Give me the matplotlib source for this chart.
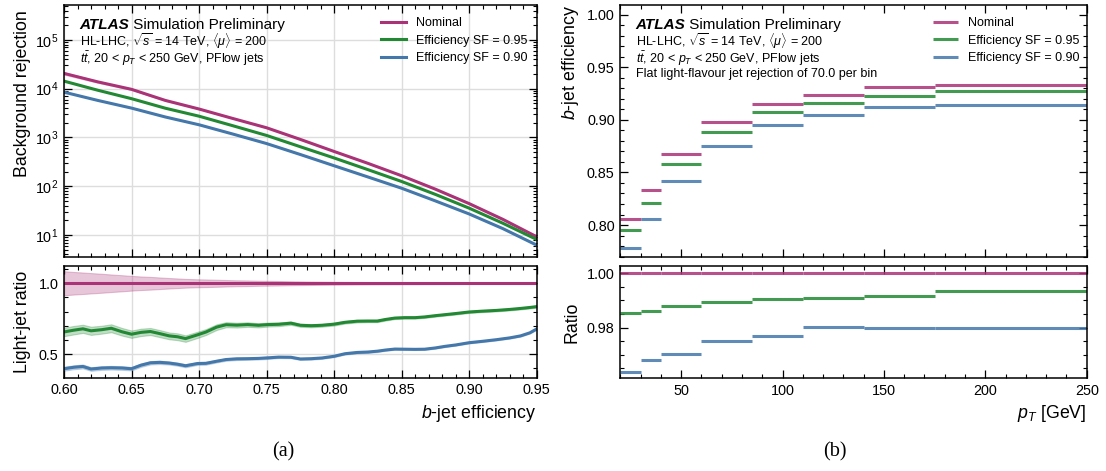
import matplotlib
matplotlib.use("Agg")
import matplotlib.pyplot as plt
from matplotlib.ticker import MultipleLocator, FormatStrFormatter
import numpy as np

plt.rcParams['font.family'] = ['Liberation Sans', 'DejaVu Sans']
plt.rcParams['mathtext.fontset'] = 'custom'
plt.rcParams['mathtext.rm'] = 'Liberation Sans'
plt.rcParams['mathtext.it'] = 'Liberation Sans:italic'
plt.rcParams['mathtext.bf'] = 'Liberation Sans:bold'

# colours (Tol bright)
c_nom, c_95, c_90 = '#AA3377', '#228833', '#4477AA'
labels = ['Nominal', 'Efficiency SF = 0.95', 'Efficiency SF = 0.90']

# ---- (a) rejection vs b-jet efficiency ----
eff_coarse = [0.600, 0.625, 0.650, 0.675, 0.700, 0.725, 0.750, 0.775,
              0.800, 0.825, 0.850, 0.875, 0.900, 0.925, 0.950]
rej_nominal = [20600, 13800, 9700, 5750, 3830, 2450, 1580, 912,
               516, 295, 164, 87, 44, 20.9, 9.2]
rej_sf095 = [14300, 9300, 6240, 3980, 2730, 1740, 1100, 645,
             380, 219, 125, 68, 35.5, 17.4, 8.1]
rej_sf090 = [8500, 5750, 4000, 2630, 1820, 1175, 750, 447,
             263, 155, 91, 50, 27, 13.5, 6.2]
rej_nominal_relunc = [0.085, 0.068, 0.052, 0.040, 0.028, 0.022, 0.017, 0.013,
                      0.010, 0.008, 0.007, 0.006, 0.005, 0.005, 0.005]

eff_fine = [0.600, 0.607, 0.614, 0.620, 0.628, 0.635, 0.643, 0.650, 0.657, 0.664,
            0.671, 0.678, 0.684, 0.690, 0.699, 0.705, 0.713, 0.720, 0.728, 0.736,
            0.744, 0.751, 0.759, 0.768, 0.775, 0.783, 0.791, 0.800, 0.808, 0.817,
            0.825, 0.832, 0.838, 0.845, 0.852, 0.860, 0.867, 0.875, 0.882, 0.890,
            0.900, 0.910, 0.920, 0.930, 0.938, 0.945, 0.950]
ratio_sf095 = [0.656, 0.668, 0.678, 0.664, 0.672, 0.682, 0.657, 0.640, 0.653, 0.659,
               0.644, 0.628, 0.622, 0.609, 0.636, 0.655, 0.690, 0.707, 0.704, 0.708,
               0.703, 0.708, 0.710, 0.718, 0.703, 0.700, 0.703, 0.711, 0.724, 0.732,
               0.733, 0.733, 0.744, 0.754, 0.757, 0.757, 0.762, 0.771, 0.778, 0.786,
               0.797, 0.803, 0.808, 0.815, 0.822, 0.829, 0.835]
ratio_sf090 = [0.396, 0.406, 0.412, 0.394, 0.401, 0.403, 0.401, 0.396, 0.421, 0.438,
               0.441, 0.436, 0.428, 0.417, 0.433, 0.434, 0.449, 0.461, 0.466, 0.467,
               0.469, 0.473, 0.478, 0.477, 0.465, 0.467, 0.472, 0.484, 0.502, 0.511,
               0.514, 0.520, 0.528, 0.535, 0.534, 0.533, 0.534, 0.543, 0.554, 0.564,
               0.580, 0.590, 0.601, 0.614, 0.628, 0.650, 0.677]
unc_nominal = [0.085, 0.080, 0.076, 0.072, 0.067, 0.062, 0.057, 0.052, 0.048, 0.045,
               0.041, 0.037, 0.034, 0.031, 0.028, 0.027, 0.025, 0.023, 0.021, 0.020,
               0.018, 0.017, 0.016, 0.014, 0.013, 0.012, 0.011, 0.010, 0.0095, 0.009,
               0.0085, 0.008, 0.0078, 0.0073, 0.007, 0.0067, 0.0064, 0.006, 0.0057, 0.0054,
               0.005, 0.005, 0.005, 0.005, 0.005, 0.005, 0.005]
unc_sf095 = [0.030, 0.030, 0.029, 0.029, 0.028, 0.028, 0.027, 0.026, 0.026, 0.025,
             0.025, 0.024, 0.024, 0.023, 0.022, 0.021, 0.020, 0.018, 0.017, 0.016,
             0.015, 0.014, 0.013, 0.012, 0.011, 0.011, 0.010, 0.010, 0.009, 0.009,
             0.008, 0.008, 0.008, 0.007, 0.007, 0.007, 0.007, 0.007, 0.007, 0.007,
             0.007, 0.007, 0.007, 0.007, 0.007, 0.007, 0.007]
unc_sf090 = [0.014, 0.014, 0.014, 0.013, 0.013, 0.013, 0.013, 0.012, 0.012, 0.012,
             0.012, 0.011, 0.011, 0.011, 0.010, 0.010, 0.009, 0.009, 0.009, 0.008,
             0.008, 0.008, 0.007, 0.007, 0.007, 0.007, 0.006, 0.006, 0.006, 0.006,
             0.006, 0.006, 0.005, 0.005, 0.005, 0.005, 0.005, 0.005, 0.005, 0.005,
             0.005, 0.005, 0.005, 0.005, 0.005, 0.005, 0.005]

# ---- (b) b-jet efficiency vs pT ----
pt_edges = [20, 30, 40, 60, 85, 110, 140, 175, 250]
eff_nominal = [0.806, 0.833, 0.868, 0.898, 0.915, 0.924, 0.931, 0.933]
eff_sf095 = [0.795, 0.821, 0.858, 0.888, 0.907, 0.916, 0.923, 0.927]
eff_sf090 = [0.778, 0.806, 0.842, 0.875, 0.895, 0.905, 0.912, 0.914]
pt_ratio_nominal = [1.0, 1.0, 1.0, 1.0, 1.0, 1.0, 1.0, 1.0]
pt_ratio_sf095 = [0.9853, 0.9861, 0.9881, 0.9896, 0.9907, 0.9909, 0.9916, 0.9935]
pt_ratio_sf090 = [0.9635, 0.9679, 0.9702, 0.9750, 0.9770, 0.9801, 0.9798, 0.9798]

fig = plt.figure(figsize=(11.06, 4.71), dpi=100)
W, H = 1106, 471
def px_axes(x0, x1, y0, y1):
    return fig.add_axes([x0 / W, 1 - y1 / H, (x1 - x0) / W, (y1 - y0) / H])

axA = px_axes(64, 536.7, 5, 257)
axAr = px_axes(64, 536.7, 266, 377.5)
axB = px_axes(620.3, 1086.7, 5, 257)
axBr = px_axes(620.3, 1086.7, 266, 378)

for ax in (axA, axAr, axB, axBr):
    ax.tick_params(which='both', direction='in', top=True, right=True, labelsize=10.4, pad=4)
    ax.tick_params(which='major', length=6, width=0.9)
    ax.tick_params(which='minor', length=3, width=0.8)
    for s in ax.spines.values():
        s.set_linewidth(1.1)
    ax.set_axisbelow(True)

for ax in (axA, axAr):
    ax.grid(True, which='major', color='#dddddd', lw=1)

lw = 2.2
# top-left
eff_c = np.array(eff_coarse)
for rej, col, lab in zip([rej_nominal, rej_sf095, rej_sf090], [c_nom, c_95, c_90], labels):
    axA.plot(eff_c, rej, color=col, lw=lw, label=lab)
rn = np.array(rej_nominal)
ru = np.array(rej_nominal_relunc)
axA.fill_between(eff_c, rn * (1 - ru), rn * (1 + ru), color=c_nom, alpha=0.25, lw=0)
axA.set_yscale('log')
axA.set_xlim(0.6, 0.95)
axA.set_ylim(3.54, 5.2e5)
axA.xaxis.set_major_locator(MultipleLocator(0.05))
axA.xaxis.set_minor_locator(MultipleLocator(0.01))
axA.tick_params(labelbottom=False)
axA.set_ylabel('Background rejection', fontsize=12.8, loc='top')

# bottom-left ratio
ef = np.array(eff_fine)
for r, u, col in zip([np.ones(len(ef)), ratio_sf095, ratio_sf090],
                     [unc_nominal, unc_sf095, unc_sf090], [c_nom, c_95, c_90]):
    r = np.array(r); u = np.array(u)
    axAr.fill_between(ef, r - u, r + u, color=col, alpha=0.28, lw=0.8, edgecolor=col)
    axAr.plot(ef, r, color=col, lw=lw)
axAr.set_xlim(0.6, 0.95)
axAr.set_ylim(0.334, 1.122)
axAr.xaxis.set_major_locator(MultipleLocator(0.05))
axAr.xaxis.set_minor_locator(MultipleLocator(0.01))
axAr.yaxis.set_major_locator(MultipleLocator(0.5))
axAr.yaxis.set_minor_locator(MultipleLocator(0.1))
axAr.xaxis.set_major_formatter(FormatStrFormatter('%.2f'))
axAr.set_xlabel('$b$-jet efficiency', fontsize=12.8, loc='right', labelpad=4)
axAr.set_ylabel('Light-jet ratio', fontsize=12.8)

# top-right
e0, e1 = pt_edges[:-1], pt_edges[1:]
for eff, col, lab in zip([eff_nominal, eff_sf095, eff_sf090], [c_nom, c_95, c_90], labels):
    axB.hlines(eff, e0, e1, color=col, lw=2.2, alpha=0.85, label=lab)
axB.set_xlim(20, 250)
axB.set_ylim(0.7696, 1.0092)
axB.xaxis.set_major_locator(MultipleLocator(50))
axB.xaxis.set_minor_locator(MultipleLocator(10))
axB.yaxis.set_major_locator(MultipleLocator(0.05))
axB.yaxis.set_minor_locator(MultipleLocator(0.01))
axB.yaxis.set_major_formatter(FormatStrFormatter('%.2f'))
axB.tick_params(labelbottom=False)
axB.set_ylabel('$b$-jet efficiency', fontsize=12.8, loc='top')

# bottom-right ratio
for r, col in zip([pt_ratio_nominal, pt_ratio_sf095, pt_ratio_sf090], [c_nom, c_95, c_90]):
    axBr.hlines(r, e0, e1, color=col, lw=2.2, alpha=0.85)
axBr.set_xlim(20, 250)
axBr.set_ylim(0.9614, 1.0027)
axBr.xaxis.set_major_locator(MultipleLocator(50))
axBr.xaxis.set_minor_locator(MultipleLocator(10))
axBr.yaxis.set_major_locator(MultipleLocator(0.02))
axBr.yaxis.set_minor_locator(MultipleLocator(0.005))
axBr.yaxis.set_major_formatter(FormatStrFormatter('%.2f'))
axBr.set_xlabel('$p_T$ [GeV]', fontsize=12.8, loc='right', labelpad=4)
axBr.set_ylabel('Ratio', fontsize=12.8)

# label positions
axA.yaxis.set_label_coords(-0.07, 0.98)
axAr.yaxis.set_label_coords(-0.07, 0.5)
axB.yaxis.set_label_coords(-0.085, 1.0)
axBr.yaxis.set_label_coords(-0.085, 0.5)

# ATLAS text + legends
def atlas_text(ax, lines):
    t = ax.text(0.033, 0.921, 'ATLAS', transform=ax.transAxes, fontsize=11,
                fontweight='bold', fontstyle='italic', va='center')
    ax.annotate(' Simulation Preliminary', xy=(1, 0.5), xycoords=t, fontsize=11,
                va='center', ha='left')
    ys = [0.855, 0.787, 0.726]
    for y, s in zip(ys, lines):
        ax.text(0.033, y, s, transform=ax.transAxes, fontsize=9, va='center')
    ax.legend(loc='upper left', bbox_to_anchor=(0.67, 0.952), frameon=False,
              fontsize=9, handlelength=2.0, handletextpad=0.8, labelspacing=0.45,
              borderpad=0, borderaxespad=0)

line1 = r'HL-LHC, $\sqrt{s}$ = 14 TeV, $\langle\mu\rangle$ = 200'
line2 = r'$t\bar{t}$, 20 < $p_T$ < 250 GeV, PFlow jets'
atlas_text(axA, [line1, line2])
atlas_text(axB, [line1, line2, 'Flat light-flavour jet rejection of 70.0 per bin'])

fig.text(283 / W, 1 - 452 / H, '(a)', family='Liberation Serif', fontsize=14.5, ha='center', va='center')
fig.text(835 / W, 1 - 452 / H, '(b)', family='Liberation Serif', fontsize=14.5, ha='center', va='center')

fig.savefig('out.png', dpi=100)
